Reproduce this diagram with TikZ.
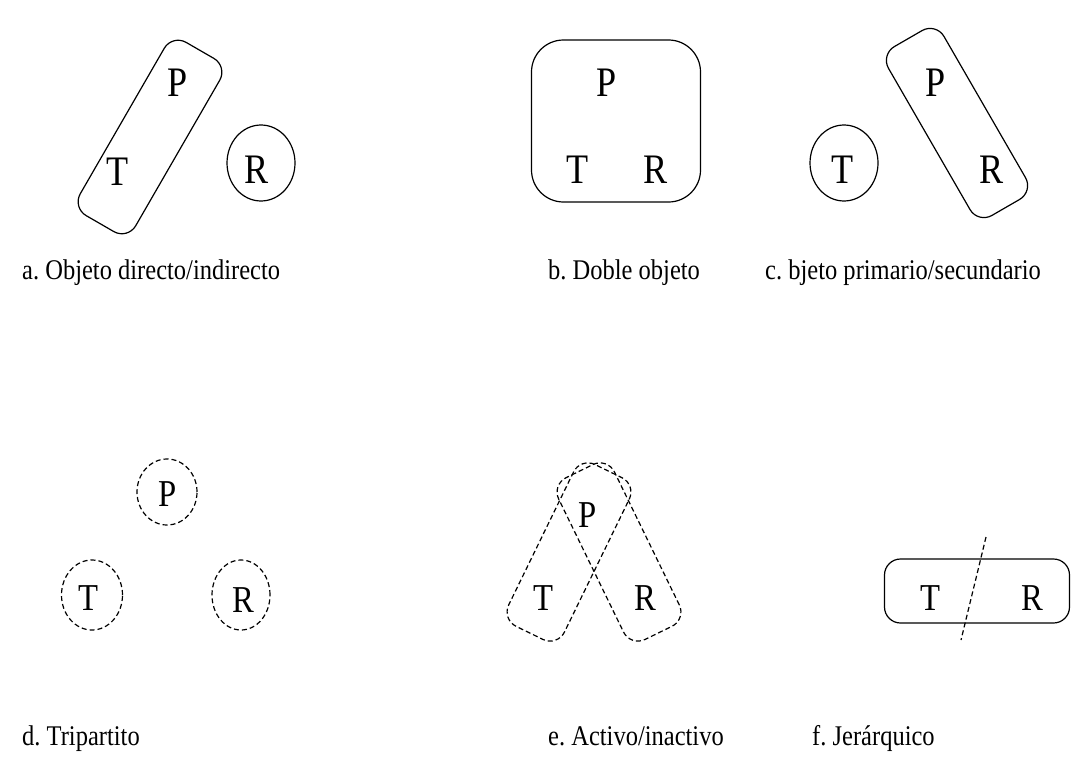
\documentclass[tikz,border=0pt]{standalone}
\usepackage{fontspec}
\setmainfont{Liberation Serif}
\newfontfamily\narrowserif[FakeStretch=0.86]{Liberation Serif}
\usetikzlibrary{shapes.geometric}
\frenchspacing

\begin{document}
\begin{tikzpicture}[
  x=1pt, y=-1pt,
  letter/.style={font=\narrowserif\fontsize{42}{42}\selectfont, inner sep=0pt},
  lowletter/.style={font=\narrowserif\fontsize{38}{38}\selectfont, inner sep=0pt},
  capt/.style={font=\narrowserif\fontsize{28.5}{28.5}\selectfont, anchor=base west, inner sep=0pt},
  band/.style={draw, line width=1.2pt, rounded corners=16pt, minimum width=200pt, minimum height=64pt},
  ring/.style={draw, line width=1.2pt, ellipse, minimum width=68pt, minimum height=76pt, inner sep=0pt},
  broken/.style={dash pattern=on 5pt off 3pt}
]
\useasboundingbox (0,0) rectangle (1086,760);

% a. direct / indirect object
\node[band, rotate=60] (aPT) at (150,137) {};
\node[letter] (aP) at (178,83) {P};
\node[letter] (aT) at (118,172) {T};
\node[ring] (aRing) at (261,163) {};
\node[letter] (aR) at (257,170) {R};

% b. double object
\node[draw, line width=1.2pt, rounded corners=32pt, minimum width=169pt, minimum height=162pt] (bPTR) at (616,121) {};
\node[letter] (bP) at (607,83) {P};
\node[letter] (bT) at (578,170) {T};
\node[letter] (bR) at (656,170) {R};

% c. primary / secondary object
\node[ring] (cRing) at (844,163) {};
\node[letter] (cT) at (843,170) {T};
\node[band, rotate=-60, minimum width=195pt] (cPR) at (957,123) {};
\node[letter] (cP) at (936,83) {P};
\node[letter] (cR) at (992,170) {R};

% d. tripartite
\node[ring, broken, minimum width=60pt, minimum height=66pt] (dPRing) at (167,492) {};
\node[ring, broken, minimum width=61pt, minimum height=70pt] (dTRing) at (92,595) {};
\node[ring, broken, minimum width=58pt, minimum height=70pt] (dRRing) at (241,595) {};
\node[lowletter] (dP) at (168,494) {P};
\node[lowletter] (dT) at (88,598) {T};
\node[lowletter] (dR) at (243,600) {R};

% e. active / inactive
\node[band, broken, rotate=64, minimum width=180pt, minimum height=62pt] (eTP) at (569,552) {};
\node[band, broken, rotate=-64, minimum width=180pt, minimum height=62pt] (ePR) at (619,552) {};
\node[lowletter] (eP) at (588,515) {P};
\node[lowletter] (eT) at (543,598) {T};
\node[lowletter] (eR) at (645,598) {R};

% f. hierarchical
\node[band, minimum width=185pt] (fTR) at (977,591) {};
\node[lowletter] (fT) at (930,598) {T};
\node[lowletter] (fR) at (1032,598) {R};
\coordinate (fTop) at (986,537);
\coordinate (fBot) at (961,640);
\draw[line width=1.2pt, broken] (fTop) -- (fBot);

% captions
\node[capt] (capA) at (22,279) {a. Objeto directo/indirecto};
\node[capt] (capB) at (548,279) {b. Doble objeto};
\node[capt] (capC) at (765,279) {c. bjeto primario/secundario};
\node[capt] (capD) at (22,745) {d. Tripartito};
\node[capt] (capE) at (548,745) {e. Activo/inactivo};
\node[capt] (capF) at (812,745) {f. Jerárquico};
\end{tikzpicture}
\end{document}
